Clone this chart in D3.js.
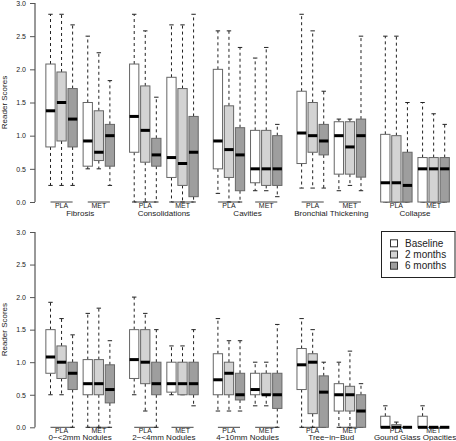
<!DOCTYPE html>
<html>
<head>
<meta charset="utf-8">
<script src="https://cdn.jsdelivr.net/npm/d3@7"></script>
<style>
  html, body { margin: 0; padding: 0; background: #fff; }
  svg { display: block; font-family: "Liberation Sans", Arial, Helvetica, sans-serif; }
</style>
</head>
<body>
<svg id="chart" width="456" height="441"></svg>
<script>
// ---- data: [lower whisker, Q1, median, Q3, upper whisker] ----
const timepoints = ["Baseline", "2 months", "6 months"];
const groups = ["PLA", "MET"];
const yTicks = [0, 0.5, 1, 1.5, 2, 2.5, 3];

const topCategories = ["Fibrosis", "Consolidations", "Cavities", "Bronchial Thickening", "Collapse"];
const bottomCategories = ["0\u2212<2mm Nodules", "2\u2212<4mm Nodules", "4\u221210mm Nodules", "Tree\u2212in\u2212Bud", "Gound Glass Opacities"];

const fibrosis = [
  [[0.25, 0.83, 1.375, 2.08, 2.83], [0.25, 0.92, 1.5, 1.96, 2.83], [0.25, 0.83, 1.25, 1.71, 2.67]],
  [[0.5, 0.54, 0.92, 1.5, 2.5], [0.5, 0.625, 0.75, 1.375, 2.25], [0.25, 0.54, 1.0, 1.17, 1.83]]
];
const consolidations = [
  [[0, 0.75, 1.29, 2.08, 2.83], [0, 0.6, 1.08, 1.75, 2.58], [0, 0.54, 0.71, 0.96, 1.58]],
  [[0, 0.37, 0.67, 1.88, 2.67], [0, 0.25, 0.58, 1.71, 2.67], [0, 0.08, 0.75, 1.29, 2.83]]
];
const cavities = [
  [[0.13, 0.5, 0.92, 2.0, 2.58], [0, 0.37, 0.79, 1.45, 2.58], [0, 0.17, 0.71, 1.12, 2.33]],
  [[0.17, 0.29, 0.5, 1.08, 2.17], [0.17, 0.25, 0.5, 1.08, 2.33], [0.08, 0.25, 0.5, 1.0, 1.17]]
];
const bronchialThickening = [
  [[0.21, 0.58, 1.04, 1.67, 2.83], [0.21, 0.75, 1.0, 1.5, 2.58], [0.21, 0.71, 0.92, 1.17, 1.67]],
  [[0.17, 0.42, 1.0, 1.21, 1.25], [0.25, 0.42, 0.83, 1.21, 1.25], [0.17, 0.375, 1.0, 1.25, 2.5]]
];
const collapse = [
  [[0, 0, 0.29, 1.02, 2.5], [0, 0, 0.29, 1.0, 2.5], [0, 0, 0.25, 0.75, 1.5]],
  [[0, 0, 0.5, 0.67, 1.5], [0, 0, 0.5, 0.67, 1.33], [0, 0, 0.5, 0.67, 1.17]]
];
const nodules0to2 = [
  [[0.5, 0.83, 1.08, 1.5, 1.92], [0.5, 0.75, 1.0, 1.25, 1.67], [0, 0.58, 0.83, 1.0, 1.42]],
  [[0, 0.5, 0.67, 1.04, 1.75], [0, 0.5, 0.67, 1.04, 1.83], [0, 0.375, 0.58, 0.96, 1.33]]
];
const nodules2to4 = [
  [[0.5, 0.75, 1.04, 1.5, 2.0], [0.25, 0.67, 1.0, 1.5, 1.75], [0, 0.5, 0.67, 1.0, 1.5]],
  [[0.5, 0.54, 0.67, 1.0, 1.25], [0.5, 0.5, 0.67, 1.0, 1.25], [0.33, 0.5, 0.67, 1.0, 1.5]]
];
const nodules4to10 = [
  [[0.25, 0.5, 0.73, 1.13, 1.67], [0.25, 0.5, 0.83, 1.0, 1.33], [0.25, 0.42, 0.5, 0.83, 1.33]],
  [[0.33, 0.5, 0.58, 0.83, 1.0], [0.33, 0.5, 0.5, 0.83, 1.0], [0, 0.29, 0.5, 0.83, 1.58]]
];
const treeInBud = [
  [[0, 0.58, 0.96, 1.21, 1.67], [0, 0.21, 1.0, 1.13, 1.5], [0, 0, 0.54, 0.79, 1.0]],
  [[0, 0.25, 0.5, 0.67, 1.0], [0, 0.25, 0.5, 0.63, 1.17], [0, 0, 0.25, 0.5, 0.67]]
];
const groundGlass = [
  [[0, 0, 0, 0.17, 0.33], [0, 0, 0, 0.04, 0.08], [0, 0, 0, 0, 0]],
  [[0, 0, 0, 0.17, 0.33], [0, 0, 0, 0, 0], [0, 0, 0, 0, 0]]
];

const topStats = [fibrosis, consolidations, cavities, bronchialThickening, collapse];
const bottomStats = [nodules0to2, nodules2to4, nodules4to10, treeInBud, groundGlass];

// ---- layout / style ----
const fills = ["#ffffff", "#d3d3d3", "#9e9e9e"];
const CAT_STEP = 7.57;   // slot units between categories
const GROUP_STEP = 3.37; // slot units between PLA and MET
const BOX_W = 0.84;      // box width in slot units
const STAPLE_W = 0.4;

const svg = d3.select("#chart");
const x = d3.scaleLinear()
  .domain([0, 4 * CAT_STEP + GROUP_STEP + 2])
  .range([50.5, 444.7]);
const slot = (c, g, b) => c * CAT_STEP + g * GROUP_STEP + b;
const pxPerUnit = x(1) - x(0);

function drawPanel(cats, stats, yTop, yBottom, groupLabelY, catLabelY) {
  const y = d3.scaleLinear().domain([0, 3]).range([yBottom, yTop]);
  const panel = svg.append("g");

  // y axis
  const axis = d3.axisLeft(y).tickValues(yTicks).tickFormat(d3.format(".1f")).tickSize(5).tickPadding(4);
  const ag = panel.append("g").attr("transform", "translate(35,0)").call(axis);
  ag.select(".domain").attr("stroke", "#333").attr("d", `M0,${y(0)}V${y(3)}`);
  ag.selectAll(".tick line").attr("stroke", "#555");
  ag.selectAll(".tick text").attr("font-size", 7).attr("fill", "#222")
    .attr("font-family", "'Liberation Sans', Arial, sans-serif");

  panel.append("text")
    .attr("transform", `translate(7,${(y(0) + y(3)) / 2}) rotate(-90)`)
    .attr("text-anchor", "middle")
    .attr("font-size", 8).attr("fill", "#222")
    .text("Reader Scores");

  cats.forEach((cat, c) => {
    groups.forEach((grp, g) => {
      const x0 = x(slot(c, g, 0)), x2 = x(slot(c, g, 2));
      panel.append("line")
        .attr("x1", x0).attr("x2", x2).attr("y1", y(0)).attr("y2", y(0))
        .attr("stroke", "#444").attr("stroke-width", 1);
      panel.append("text")
        .attr("x", (x0 + x2) / 2).attr("y", groupLabelY)
        .attr("text-anchor", "middle").attr("font-size", 7).attr("fill", "#222")
        .text(grp);

      timepoints.forEach((tp, b) => {
        const s = stats[c][g][b];
        const cx = x(slot(c, g, b));
        const hw = BOX_W * pxPerUnit / 2;
        const sw = STAPLE_W * pxPerUnit / 2;
        const bg = panel.append("g");
        // whiskers
        bg.append("line").attr("x1", cx).attr("x2", cx).attr("y1", y(s[3])).attr("y2", y(s[4]))
          .attr("stroke", "#222").attr("stroke-dasharray", "3,3");
        bg.append("line").attr("x1", cx).attr("x2", cx).attr("y1", y(s[1])).attr("y2", y(s[0]))
          .attr("stroke", "#222").attr("stroke-dasharray", "3,3");
        // staples
        [s[0], s[4]].forEach(v => {
          bg.append("line").attr("x1", cx - sw).attr("x2", cx + sw).attr("y1", y(v)).attr("y2", y(v))
            .attr("stroke", "#222");
        });
        // box
        bg.append("rect")
          .attr("x", cx - hw).attr("width", 2 * hw)
          .attr("y", y(s[3])).attr("height", Math.max(0, y(s[1]) - y(s[3])))
          .attr("fill", fills[b]).attr("stroke", "#666").attr("stroke-width", 1);
        // median
        bg.append("line").attr("x1", cx - hw).attr("x2", cx + hw).attr("y1", y(s[2])).attr("y2", y(s[2]))
          .attr("stroke", "#000").attr("stroke-width", 3);
      });
    });
    const cc = (x(slot(c, 0, 0)) + x(slot(c, 1, 2))) / 2;
    panel.append("text")
      .attr("x", cc).attr("y", catLabelY)
      .attr("text-anchor", "middle").attr("font-size", 8).attr("fill", "#222")
      .text(cat);
  });
}

drawPanel(topCategories, topStats, 3, 202, 208, 215.5);
drawPanel(bottomCategories, bottomStats, 232, 427.3, 432.5, 439.5);

// legend
const lg = svg.append("g");
lg.append("rect").attr("x", 381.5).attr("y", 231.5).attr("width", 73.5).attr("height", 46)
  .attr("fill", "#fff").attr("stroke", "#222");
timepoints.forEach((tp, i) => {
  const cy = 243.3 + i * 11.2;
  lg.append("rect").attr("x", 390.5).attr("y", cy - 3.5).attr("width", 7).attr("height", 7)
    .attr("fill", fills[i]).attr("stroke", "#333");
  lg.append("text").attr("x", 405).attr("y", cy + 3.6).attr("font-size", 10).attr("fill", "#222").text(tp);
});
</script>
</body>
</html>
